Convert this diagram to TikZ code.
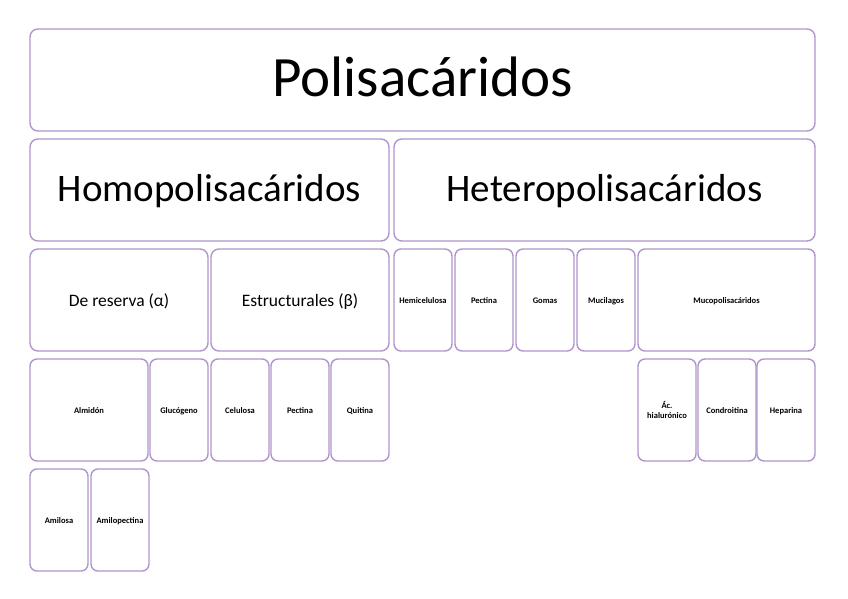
\documentclass[tikz,border=0pt]{standalone}
\usepackage{fontspec}
\setmainfont{Carlito}
\usetikzlibrary{positioning}

\definecolor{lila}{RGB}{176,150,204}

\tikzset{
	caja/.style={draw=lila, line width=1.4pt, rounded corners=8pt, fill=white,
		inner sep=0pt, outer sep=0pt, minimum height=102pt, align=center},
	grande/.style={caja, font=\fontsize{57}{60}\selectfont, text height=46pt, text depth=12.2pt},
	medio/.style={caja, font=\fontsize{39}{42}\selectfont, text height=31pt, text depth=7.6pt},
	chico/.style={caja, font=\fontsize{17.5}{21}\selectfont, text height=17pt, text depth=3.6pt},
	mini/.style={caja, rounded corners=7pt, font=\fontsize{8.5}{10}\selectfont\bfseries,
		text height=8.8pt, text depth=2pt}
}

\begin{document}
\begin{tikzpicture}[x=1pt, y=-1pt]
	\useasboundingbox[fill=white] (0,0) rectangle (848,599);
	% nivel 1
	\node[grande, minimum width=785pt] (poli) at (422.5,80) {Polisacáridos};
	% nivel 2
	\node[medio, minimum width=359pt] (homo) at (209.5,190) {Homopolisacáridos};
	\node[medio, minimum width=421pt] (hetero) at (604.5,190) {Heteropolisacáridos};
	% nivel 3
	\node[chico, minimum width=178pt] (reserva) at (119,300) {De reserva (α)};
	\node[chico, minimum width=178pt] (estruct) at (300,300) {Estructurales (β)};
	\node[mini, minimum width=58pt] (hemi) at (423,300) {Hemicelulosa};
	\node[mini, minimum width=58pt] (pectB) at (484,300) {Pectina};
	\node[mini, minimum width=58pt] (gomas) at (545,300) {Gomas};
	\node[mini, minimum width=58pt] (muci) at (606,300) {Mucilagos};
	\node[mini, minimum width=177pt] (muco) at (726.5,300) {Mucopolisacáridos};
	% nivel 4
	\node[mini, minimum width=118pt] (almidon) at (89,410) {Almidón};
	\node[mini, minimum width=58pt] (gluco) at (179,410) {Glucógeno};
	\node[mini, minimum width=58pt] (celu) at (240,410) {Celulosa};
	\node[mini, minimum width=58pt] (pectA) at (300,410) {Pectina};
	\node[mini, minimum width=58pt] (quit) at (360,410) {Quitina};
	\node[mini, minimum width=58pt, text height=, text depth=] (hialu) at (667,410) {Ác.\\hialurónico};
	\node[mini, minimum width=58pt] (condro) at (727,410) {Condroitina};
	\node[mini, minimum width=58pt] (hepa) at (786,410) {Heparina};
	% nivel 5
	\node[mini, minimum width=58pt] (amilosa) at (59,520) {Amilosa};
	\node[mini, minimum width=58pt] (amilop) at (120,520) {Amilopectina};
\end{tikzpicture}
\end{document}
